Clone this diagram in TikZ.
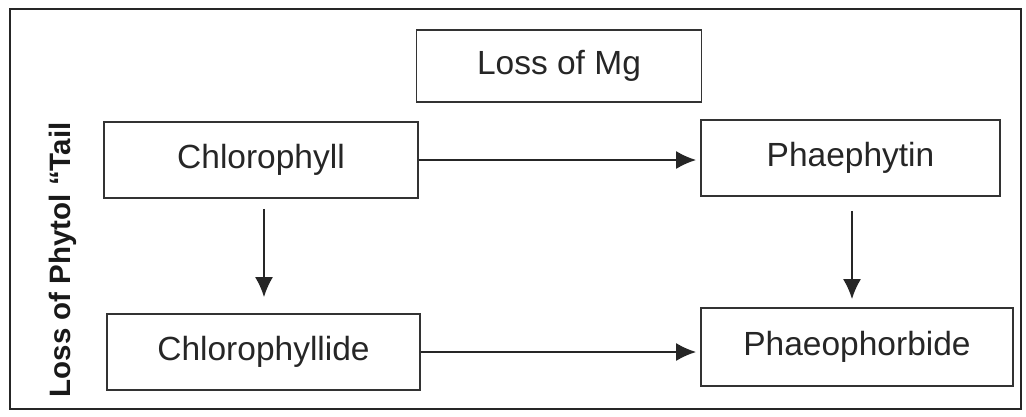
\documentclass[tikz,border=0pt]{standalone}
\usepackage{fontspec}
\setmainfont{Liberation Sans}
\usetikzlibrary{arrows.meta}
\begin{document}
\begin{tikzpicture}[x=1pt,y=-1pt,
  box/.style={draw=black!80,line width=1.8pt,inner sep=0pt,font=\fontsize{33.5}{38}\selectfont,text=black!85},
  arr/.style={line width=1.8pt,draw=black!85,-{Latex[length=20pt,width=18pt]}}]
\useasboundingbox (0,0) rectangle (1026,416);
\draw[line width=2pt,black!85] (10,9) rectangle (1021,409);
\node[box,minimum width=285pt,minimum height=72pt] (mg) at (559,66) {Loss of Mg};
\node[box,minimum width=314pt,minimum height=76pt] (chl) at (261,160) {Chlorophyll};
\node[box,minimum width=299pt,minimum height=76pt] (pht) at (850.5,158) {Phaephytin};
\node[box,minimum width=313pt,minimum height=76pt] (chd) at (263.5,352) {Chlorophyllide};
\node[box,minimum width=312pt,minimum height=78pt] (phb) at (857,347) {Phaeophorbide};
\node[rotate=90,anchor=base,font=\bfseries\fontsize{29.5}{34}\selectfont,text=black!90] (lbl) at (70,260) {Loss of Phytol ``Tail};
\draw[arr] (chl.east |- 0,160) -- ([xshift=-4pt]pht.west |- 0,160);
\draw[arr] (chd.east |- 0,352) -- ([xshift=-4pt]phb.west |- 0,352);
\draw[arr] ([yshift=-10pt]chl.south -| 264,0) -- ([yshift=16pt]chd.north -| 264,0);
\draw[arr] ([yshift=-14pt]pht.south -| 852,0) -- ([yshift=8pt]phb.north -| 852,0);
\end{tikzpicture}
\end{document}
